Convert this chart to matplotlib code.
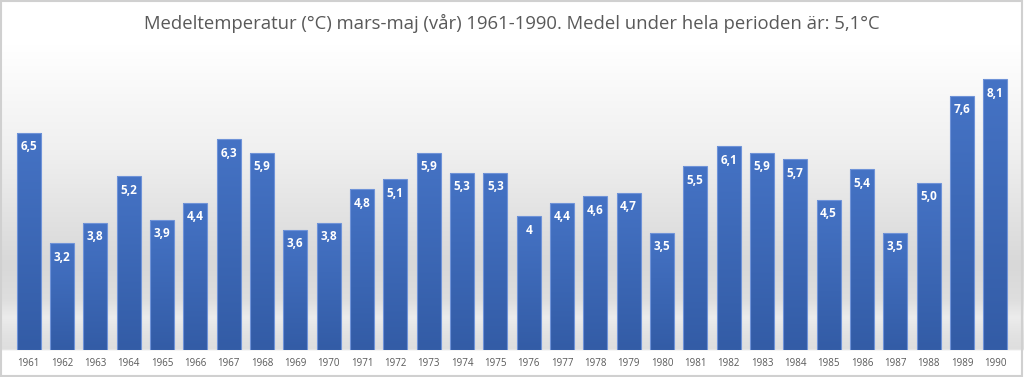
import numpy as np
import matplotlib
matplotlib.use("Agg")
import matplotlib.pyplot as plt
from matplotlib.colors import LinearSegmentedColormap

years = [str(y) for y in range(1961, 1991)]
values = [6.5, 3.2, 3.8, 5.2, 3.9, 4.4, 6.3, 5.9, 3.6, 3.8, 4.8, 5.1, 5.9, 5.3, 5.3,
          4.0, 4.4, 4.6, 4.7, 3.5, 5.5, 6.1, 5.9, 5.7, 4.5, 5.4, 3.5, 5.0, 7.6, 8.1]
labels = ["6,5", "3,2", "3,8", "5,2", "3,9", "4,4", "6,3", "5,9", "3,6", "3,8", "4,8", "5,1",
          "5,9", "5,3", "5,3", "4", "4,4", "4,6", "4,7", "3,5", "5,5", "6,1", "5,9", "5,7",
          "4,5", "5,4", "3,5", "5,0", "7,6", "8,1"]
title = "Medeltemperatur (°C) mars-maj (vår) 1961-1990. Medel under hela perioden är: 5,1°C"

W, H = 1024, 377
fig = plt.figure(figsize=(W / 100, H / 100), dpi=100)
fig.patch.set_facecolor("white")

# background gradient (figure-level)
bg = fig.add_axes([0, 0, 1, 1], zorder=0)
bg.set_axis_off()
ys = np.linspace(0, 1, 400)  # 0 = top of image
stops_y = np.array([0, 45, 150, 265, 300, 318, 335, 350, 351, 377]) / H
stops_c = np.array([255, 255, 240, 216, 222, 236, 226, 222, 255, 255])
col = np.interp(ys, stops_y, stops_c) / 255.0
img = np.repeat(col[:, None], 2, axis=1)
img = np.stack([img, img, img], axis=-1)
bg.imshow(img, extent=[0, 1, 0, 1], aspect="auto", interpolation="bilinear")
bg.set_xlim(0, 1)
bg.set_ylim(0, 1)
bg.add_patch(plt.Rectangle((0.001, 0.002), 0.997, 0.995, fill=False,
                           edgecolor="#d0d0d0", lw=1.5, transform=bg.transAxes))

left, right = 12 / W, 1012 / W
bottom, top = (H - 350) / H, (H - 49) / H
ax = fig.add_axes([left, bottom, right - left, top - bottom], zorder=1)
ax.patch.set_alpha(0)
x = np.arange(len(years))
bars = ax.bar(x, values, width=0.72, facecolor="none", edgecolor="#6f93d8", lw=0.8, zorder=3)
cmap = LinearSegmentedColormap.from_list("b", ["#335ca6", "#4573c5"])
grad = np.linspace(0, 1, 100)[:, None]
for b, v, lab in zip(bars, values, labels):
    x0 = b.get_x()
    w = b.get_width()
    im = ax.imshow(grad, extent=[x0, x0 + w, 0, v], origin="lower", aspect="auto",
                   cmap=cmap, zorder=2, interpolation="bilinear")
    im.set_clip_path(b)
    ax.text(x0 + w / 2, v - 0.42, lab, ha="center", va="center", color="white",
            fontsize=8.5, fontweight="bold", family="Open Sans", zorder=4)

ax.set_xlim(-0.5, len(years) - 0.5)
ax.set_ylim(0, 9)
ax.set_yticks([])
ax.set_xticks(x)
ax.set_xticklabels(years, fontsize=7, color="#595959", family="Open Sans")
ax.tick_params(axis="x", length=0, pad=6)
for s in ax.spines.values():
    s.set_visible(False)

fig.text(0.5, 1 - 23 / H, title, ha="center", va="center", fontsize=13.3,
         color="#595959", family="Open Sans")

fig.savefig("out.png", dpi=100)
